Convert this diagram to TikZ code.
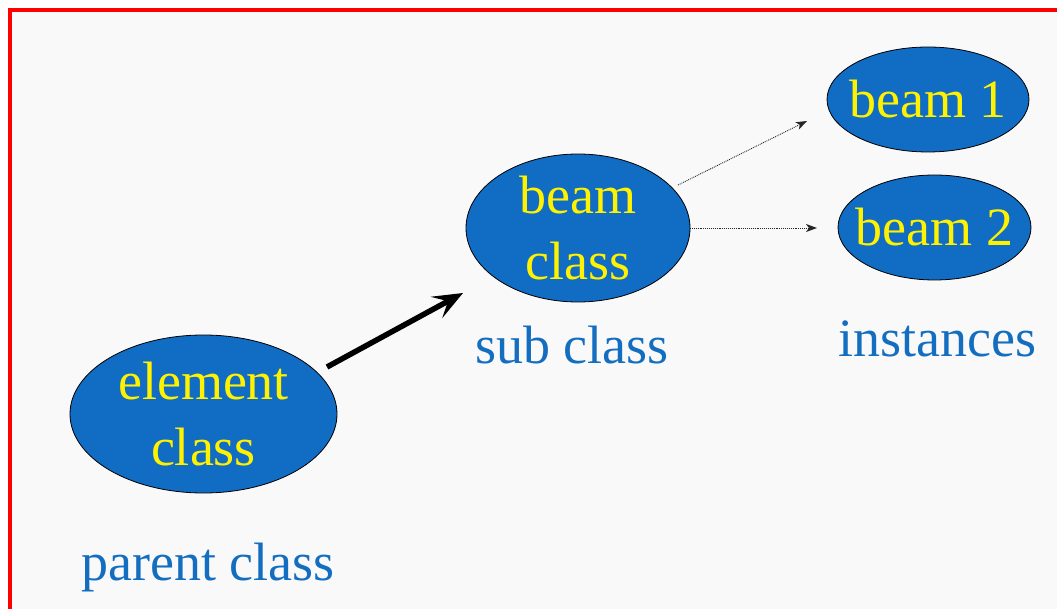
\documentclass[tikz,border=0pt]{standalone}
\usepackage{fontspec}
\setmainfont{Liberation Serif}
\usetikzlibrary{shapes.geometric,arrows.meta}
\definecolor{blobblue}{RGB}{17,108,195}
\definecolor{labelblue}{RGB}{20,110,192}
\definecolor{bgray}{RGB}{249,249,249}
\begin{document}
\begin{tikzpicture}[x=1pt,y=-1pt,
  blob/.style={ellipse, draw=black, line width=0.8pt, fill=blobblue, text=yellow,
    inner sep=0pt, align=center, font=\fontsize{54}{66}\selectfont},
  lbl/.style={text=labelblue, anchor=base, inner sep=0pt, font=\fontsize{54}{66}\selectfont},
  thick arrow/.style={line width=5.5pt, -{Stealth[length=30pt,width=24pt,inset=13pt]}},
  thin arrow/.style={line width=0.9pt, densely dotted, black!85, -{Stealth[length=11pt,width=8pt,inset=3pt]}}]
\useasboundingbox (0,0) rectangle (1057,609);
\fill[white] (0,0) rectangle (1057,609);
\path[fill=bgray, draw=red, line width=4pt] (10,10) rectangle (1080,640);
% ellipses
\node[blob, minimum width=267pt, minimum height=158pt] (elem) at (203.5,414) {element\\class};
\node[blob, minimum width=224pt, minimum height=148pt] (beamc) at (578,228) {beam\\class};
\node[blob, minimum width=202pt, minimum height=105pt] (b1) at (928,99.5) {\makebox[0pt]{beam 1}};
\node[blob, minimum width=193pt, minimum height=105pt] (b2) at (934.5,227.5) {\makebox[0pt]{beam 2}};
% labels
\node[lbl] (lparent) at (208,580) {parent class};
\node[lbl] (lsub) at (572,363) {sub class};
\node[lbl] (linst) at (937,356) {instances};
% connectors
\coordinate (a1s) at (327,367);
\coordinate (a1e) at (463,293);
\coordinate (a2s) at (678,185);
\coordinate (a2e) at (807,121);
\coordinate (a3s) at (690,228);
\coordinate (a3e) at (817,228);
\draw[thick arrow] (a1s) -- (a1e);
\draw[thin arrow] (a2s) -- (a2e);
\draw[thin arrow] (a3s) -- (a3e);
\end{tikzpicture}
\end{document}
